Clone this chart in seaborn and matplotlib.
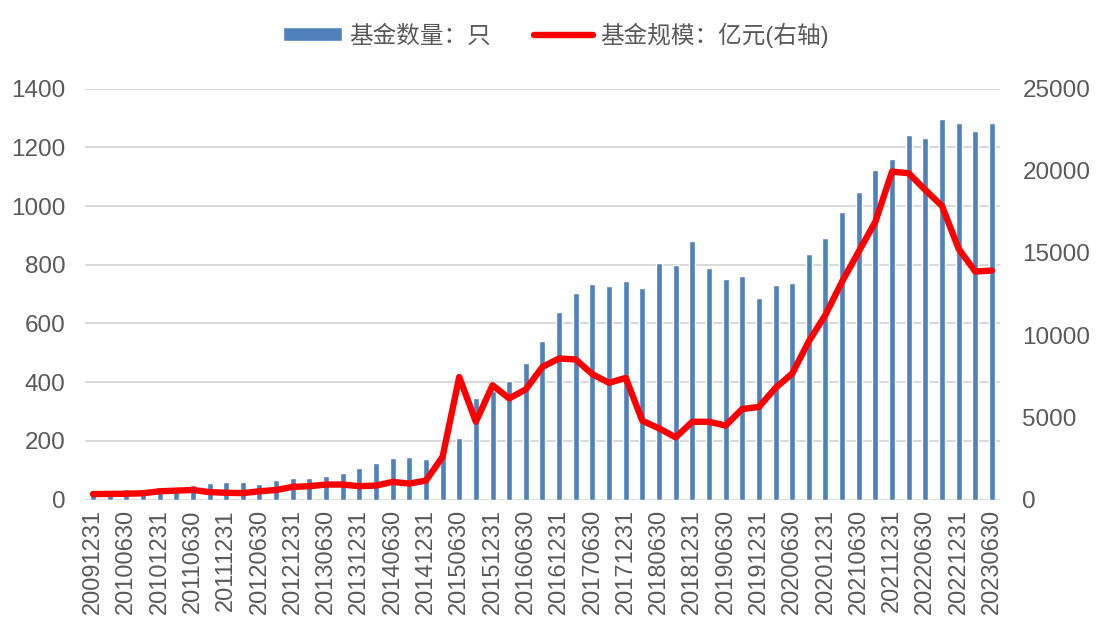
import numpy as np
import pandas as pd
import matplotlib
matplotlib.use("Agg")
import matplotlib.pyplot as plt
import seaborn as sns


# 1 DATA

dates = [
    "20091231",
    "20100331", "20100630", "20100930", "20101231",
    "20110331", "20110630", "20110930", "20111231",
    "20120331", "20120630", "20120930", "20121231",
    "20130331", "20130630", "20130930", "20131231",
    "20140331", "20140630", "20140930", "20141231",
    "20150331", "20150630", "20150930", "20151231",
    "20160331", "20160630", "20160930", "20161231",
    "20170331", "20170630", "20170930", "20171231",
    "20180331", "20180630", "20180930", "20181231",
    "20190331", "20190630", "20190930", "20191231",
    "20200331", "20200630", "20200930", "20201231",
    "20210331", "20210630", "20210930", "20211231",
    "20220331", "20220630", "20220930", "20221231",
    "20230331", "20230630",
]

fund_count = [
    31,
    34, 36, 36, 41,
    44, 51, 55, 58,
    60, 53, 65, 72,
    72, 81, 92, 108,
    124, 141, 144, 139,
    148, 209, 347, 370,
    404, 464, 540, 638,
    702, 734, 727, 744,
    721, 805, 799, 880,
    790, 750, 761, 686,
    731, 736, 836, 892,
    978, 1048, 1122, 1159,
    1242, 1231, 1297, 1282,
    1254, 1284,
]

fund_size = [
    330,
    340, 350, 380, 500,
    540, 580, 450, 410,
    390, 500, 580, 770,
    810, 910, 910, 810,
    850, 1070, 970, 1150,
    2600, 7450, 4730, 6950,
    6150, 6700, 8070, 8580,
    8520, 7620, 7100, 7400,
    4790, 4330, 3780, 4730,
    4730, 4500, 5510, 5630,
    6790, 7660, 9620, 11240,
    13260, 15090, 16910, 19950,
    19850, 18830, 17860, 15250,
    13870, 13930,
]

df = pd.DataFrame({
    "date": dates,
    "count": fund_count,
    "size": fund_size,
})
df["pos"] = np.arange(len(df))


# 2 STYLE

sns.set_theme(style="white")
plt.rcParams["font.family"] = ["Liberation Sans", "Noto Sans CJK SC", "DejaVu Sans"]

bar_color = "#4F81BD"
line_color = "#FF0000"
text_color = "#595959"
grid_color = "#D9D9D9"


# 3 PLOT

fig = plt.figure(figsize=(11.01, 6.36), dpi=100)
ax = fig.add_axes([0.0769, 0.2146, 0.8316, 0.6461])

sns.barplot(
    data=df, x="pos", y="count", color=bar_color, width=0.36,
    saturation=1, ax=ax, label="基金数量：只"
)

ax2 = ax.twinx()
sns.lineplot(
    data=df, x="pos", y="size", color=line_color, linewidth=4.6,
    ax=ax2, label="基金规模：亿元(右轴)"
)

ax.set_xlim(-0.5, len(df) - 0.5)
ax.set_ylim(0, 1400)
ax2.set_ylim(0, 25000)
ax.set_yticks(range(0, 1401, 200))
ax2.set_yticks(range(0, 25001, 5000))

ax.set_xticks(df["pos"][::2])
ax.set_xticklabels(df["date"][::2], rotation=90)

ax.yaxis.grid(True, color=grid_color, linewidth=1.4)
ax.set_axisbelow(True)
ax2.grid(False)

ax.set_xlabel("")
ax.set_ylabel("")
ax2.set_xlabel("")
ax2.set_ylabel("")

for a in (ax, ax2):
    for s in a.spines.values():
        s.set_visible(False)

ax.tick_params(axis="x", length=0, pad=7, labelsize=17, colors=text_color)
ax.tick_params(axis="y", length=0, pad=14, labelsize=17.5, colors=text_color)
ax2.tick_params(axis="y", length=0, pad=16, labelsize=17.5, colors=text_color)


# 4 LEGEND

h1, l1 = ax.get_legend_handles_labels()
h2, l2 = ax2.get_legend_handles_labels()
if ax.get_legend():
    ax.get_legend().remove()
if ax2.get_legend():
    ax2.get_legend().remove()

leg = fig.legend(
    h1 + h2, l1 + l2,
    loc="center", bbox_to_anchor=(0.505, 0.945), ncol=2,
    frameon=False, fontsize=17, handlelength=2.5, handleheight=0.55,
    handletextpad=0.3, columnspacing=1.85
)
for t in leg.get_texts():
    t.set_color(text_color)

fig.savefig("out.png", dpi=100)
